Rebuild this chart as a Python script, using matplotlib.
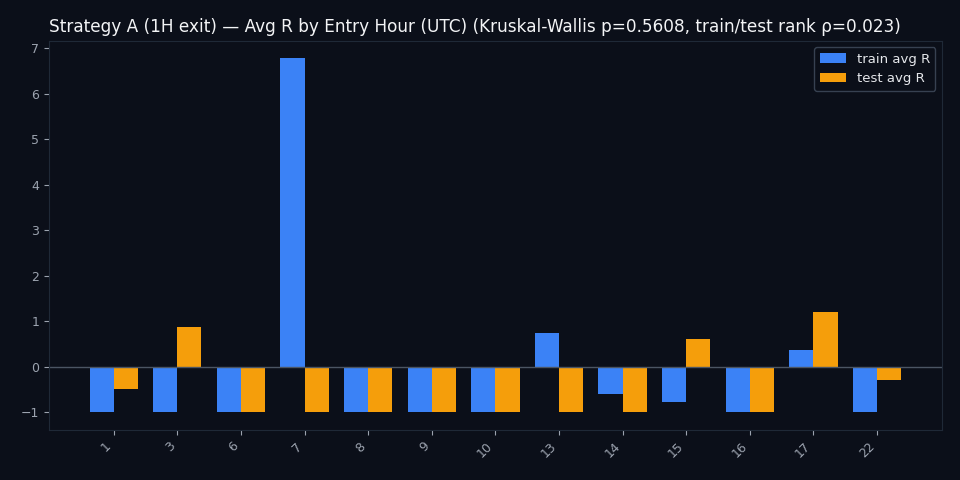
import numpy as np
import matplotlib.pyplot as plt

hours = ['1', '3', '6', '7', '8', '9', '10', '13', '14', '15', '16', '17', '22']
train_avg = [-1.0, -1.0, -1.0, 6.77, -1.0, -1.0, -1.0, 0.75, -0.59, -0.77, -1.0, 0.37, -1.0]
test_avg = [-0.48, 0.88, -1.0, -1.0, -1.0, -1.0, -1.0, -1.0, -1.0, 0.62, -1.0, 1.21, -0.28]

bg = '#0b0f19'
grid_col = '#1f2937'
text_col = '#9ca3af'

fig = plt.figure(figsize=(9.6, 4.8), dpi=100, facecolor=bg)
ax = fig.add_axes([0.051, 0.104, 0.930, 0.811], facecolor=bg)

x = np.arange(len(hours))
w = 0.38
ax.bar(x - w / 2, train_avg, w, color='#3b82f6', label='train avg R')
ax.bar(x + w / 2, test_avg, w, color='#f59e0b', label='test avg R')
ax.axhline(0, color='#4b5563', linewidth=1)

ax.set_xticks(x)
ax.set_xticklabels(hours, rotation=45, ha='right')
ax.tick_params(colors=text_col, labelsize=9)
for s in ax.spines.values():
    s.set_color(grid_col)

ax.set_title('Strategy A (1H exit) — Avg R by Entry Hour (UTC) (Kruskal-Wallis p=0.5608, train/test rank ρ=0.023)',
             color='#f3f4f6', fontsize=12.2, pad=6, loc='left')

leg = ax.legend(loc='upper right', fontsize=9.5, facecolor=bg, edgecolor='#374151', labelcolor='#e5e7eb')
leg.get_frame().set_alpha(1)

fig.savefig('out.png', facecolor=bg)
